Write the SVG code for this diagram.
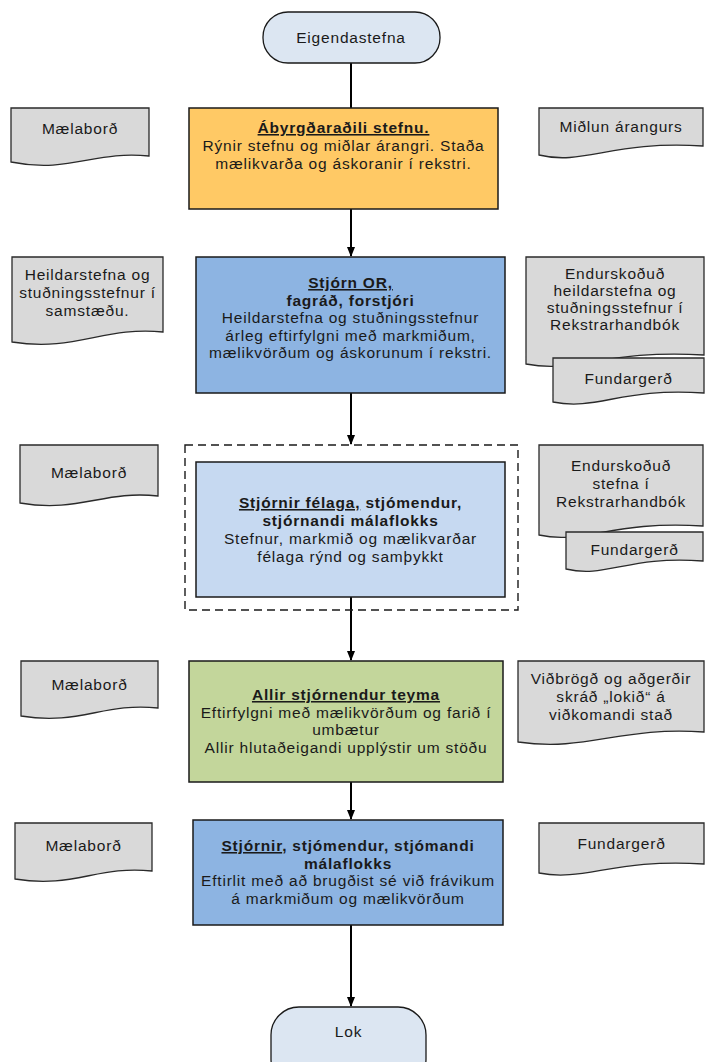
<svg xmlns="http://www.w3.org/2000/svg" width="706" height="1062" viewBox="0 0 706 1062">
<defs>
<style>
text{font-family:"Liberation Sans",Arial,sans-serif;font-size:15.5px;fill:#1a1a1a;text-anchor:middle;letter-spacing:0.8px}
.b{font-weight:bold}
.u{text-decoration:underline}
.box{stroke:#1a1a1a;stroke-width:1.5}
.doc{fill:#d9d9d9;stroke:#2a2a2a;stroke-width:1.3}
.term{fill:#dce6f2;stroke:#1a1a1a;stroke-width:1.3}
.con{stroke:#000;stroke-width:2;fill:none}
</style>
<marker id="ah" markerWidth="10" markerHeight="10" refX="9" refY="5" orient="auto" markerUnits="userSpaceOnUse">
<path d="M0,1 L10,5 L0,9 Z" fill="#000"/>
</marker>
</defs>
<rect width="706" height="1062" fill="#fff"/>

<g id="connectors">
<line class="con" x1="351" y1="63" x2="351" y2="108"/>
<line class="con" x1="351" y1="209" x2="351" y2="256" marker-end="url(#ah)"/>
<line class="con" x1="351" y1="393" x2="351" y2="444" marker-end="url(#ah)"/>
<line class="con" x1="351" y1="597" x2="351" y2="660" marker-end="url(#ah)"/>
<line class="con" x1="351" y1="782" x2="351" y2="819" marker-end="url(#ah)"/>
<line class="con" x1="351" y1="925" x2="351" y2="1006" marker-end="url(#ah)"/>
</g>

<g id="start">
<rect class="term" x="263" y="12" width="177" height="51" rx="25"/>
<text x="351" y="43">Eigendastefna</text>
</g>

<g id="box1">
<rect class="box" x="189" y="108" width="309" height="101" fill="#ffc965"/>
<text x="343.5" y="133" class="b"><tspan class="u">Ábyrgðaraðili stefnu.</tspan></text>
<text x="343.5" y="151">Rýnir stefnu og miðlar árangri. Staða</text>
<text x="343.5" y="169">mælikvarða og áskoranir í rekstri.</text>
</g>

<g id="doc1-left">
<path class="doc" d="M11,108 H149 V156 C95,150 70,174 11,162 Z"/>
<text x="80" y="134">Mælaborð</text>
</g>
<g id="doc1-right">
<path class="doc" d="M539,108 H703 V146 C613,140 584,166 539,155 Z"/>
<text x="621" y="132">Miðlun árangurs</text>
</g>

<g id="box2">
<rect class="box" x="196" y="257" width="309" height="136" fill="#8db4e2"/>
<text x="350.5" y="288" class="b"><tspan class="u">Stjórn OR,</tspan></text>
<text x="350.5" y="305.5" class="b">fagráð, forstjóri</text>
<text x="350.5" y="323">Heildarstefna og stuðningsstefnur</text>
<text x="350.5" y="340.5">árleg eftirfylgni með markmiðum,</text>
<text x="350.5" y="358">mælikvörðum og áskorunum í rekstri.</text>
</g>

<g id="doc2-left">
<path class="doc" d="M12,257 H163 V332 C104,326 76,352 12,342 Z"/>
<text x="87.5" y="280">Heildarstefna og</text>
<text x="87.5" y="298">stuðningsstefnur í</text>
<text x="87.5" y="316">samstæðu.</text>
</g>
<g id="doc2-right">
<path class="doc" d="M526,257 H704 V355 C606,349 577,374 526,364 Z"/>
<text x="615" y="279">Endurskoðuð</text>
<text x="615" y="296">heildarstefna og</text>
<text x="615" y="313">stuðningsstefnur í</text>
<text x="615" y="330">Rekstrarhandbók</text>
</g>
<g id="doc2-right-fundargerd">
<path class="doc" d="M553,358 H704 V393 C622,387 598,411 553,402 Z"/>
<text x="628.5" y="384">Fundargerð</text>
</g>

<g id="group3">
<rect x="185" y="445" width="333" height="165" fill="none" stroke="#1a1a1a" stroke-width="1.4" stroke-dasharray="8,5"/>
</g>
<g id="box3">
<rect class="box" x="196" y="462" width="309" height="135" fill="#c6d9f1"/>
<text x="350.5" y="508" class="b"><tspan class="u">Stjórnir félaga,</tspan> stjómendur,</text>
<text x="350.5" y="526" class="b">stjórnandi málaflokks</text>
<text x="350.5" y="544">Stefnur, markmið  og mælikvarðar</text>
<text x="350.5" y="562">félaga rýnd og samþykkt</text>
</g>

<g id="doc3-left">
<path class="doc" d="M20,445 H158 V496 C104,490 79,513 20,503 Z"/>
<text x="89" y="478">Mælaborð</text>
</g>
<g id="doc3-right">
<path class="doc" d="M539,445 H703 V526 C613,520 584,545 539,535 Z"/>
<text x="621" y="471">Endurskoðuð</text>
<text x="621" y="489">stefna í</text>
<text x="621" y="507">Rekstrarhandbók</text>
</g>
<g id="doc3-right-fundargerd">
<path class="doc" d="M566,532 H703 V561 C628,555 606,579 566,569 Z"/>
<text x="634.5" y="555">Fundargerð</text>
</g>

<g id="box4">
<rect class="box" x="189" y="661" width="314" height="121" fill="#c3d69b"/>
<text x="346" y="700" class="b"><tspan class="u">Allir stjórnendur teyma</tspan></text>
<text x="346" y="718">Eftirfylgni með  mælikvörðum og farið í</text>
<text x="346" y="735">umbætur</text>
<text x="346" y="753">Allir hlutaðeigandi upplýstir um stöðu</text>
</g>

<g id="doc4-left">
<path class="doc" d="M21,661 H158 V708 C104,702 79,726 21,716 Z"/>
<text x="89.5" y="690">Mælaborð</text>
</g>
<g id="doc4-right">
<path class="doc" d="M518,661 H704 V732 C620,726 588,752 518,742 Z"/>
<text x="611" y="684">Viðbrögð og aðgerðir</text>
<text x="611" y="702">skráð „lokið“ á</text>
<text x="611" y="720">viðkomandi stað</text>
</g>

<g id="box5">
<rect class="box" x="193" y="820" width="310" height="105" fill="#8db4e2"/>
<text x="348" y="851" class="b"><tspan class="u">Stjórnir</tspan>, stjómendur, stjómandi</text>
<text x="348" y="869" class="b">málaflokks</text>
<text x="348" y="886">Eftirlit með að brugðist sé við frávikum</text>
<text x="348" y="904">á markmiðum  og mælikvörðum</text>
</g>

<g id="doc5-left">
<path class="doc" d="M15,823 H152 V871 C98,865 73,889 15,879 Z"/>
<text x="83.5" y="851">Mælaborð</text>
</g>
<g id="doc5-right">
<path class="doc" d="M539,823 H704 V864 C614,858 585,882 539,873 Z"/>
<text x="621.5" y="849">Fundargerð</text>
</g>

<g id="end">
<rect class="term" x="271" y="1007" width="155" height="80" rx="28"/>
<text x="348.5" y="1037">Lok</text>
</g>
</svg>
